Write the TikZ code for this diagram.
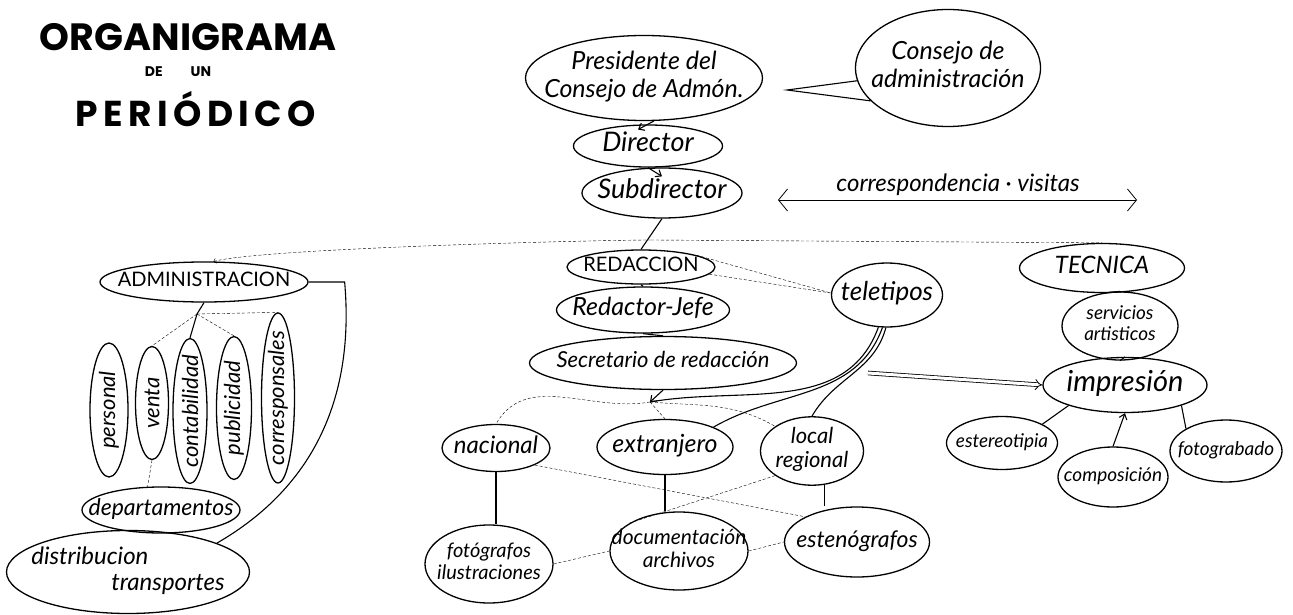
\documentclass[tikz,border=0pt]{standalone}
\usepackage{fontspec}
\usepackage{graphicx}
\usetikzlibrary{shapes.geometric,arrows.meta}
\setmainfont{Lato}
\newfontfamily\titlefont{Poppins}
\newfontfamily\titlewide{Poppins}[LetterSpace=15]
\newcommand{\bub}[2][c]{\makebox[0pt]{\renewcommand{\arraystretch}{1.1}\begin{tabular}{@{}#1@{}}#2\end{tabular}}}
\newcommand{\vbub}[1]{\rotatebox{90}{\makebox[0pt]{#1}}}

\begin{document}
\begin{tikzpicture}[x=1pt, y=-1pt,
bubble/.style={ellipse, draw, line width=1.3pt, inner sep=0pt, font=\fontsize{22}{22}\selectfont\itshape},
sz/.style={font=\fontsize{#1}{#1}\selectfont\itshape},
caps/.style={font=\fontsize{#1}{#1}\selectfont},
headline/.style={font=\titlefont\bfseries\fontsize{#1}{#1}\selectfont},
link/.style={line width=1.1pt},
faint/.style={densely dashed, thin},
tail/.style={line width=1.1pt, -{Straight Barb[length=5pt,width=8pt]}},
]
\useasboundingbox (0,0) rectangle (1293,615);

%Title
\node[headline=38] (title) at (188,37) {ORGANIGRAMA};
\node[headline=14] (titlede) at (178,72) {DE\hspace{2em}UN};
\node[headline=36, font=\titlewide\bfseries\fontsize{36}{36}\selectfont] (titleper) at (196,109) {PERIÓDICO};

%Nodes
\node[bubble, sz=25, minimum width=237, minimum height=85] (presidente) at (644,78) {\bub{Presidente del\\Consejo de Admón.}};
\node[bubble, sz=25, minimum width=185, minimum height=117] (consejo) at (948,68) {\bub{Consejo de\\administración}};
\node[bubble, sz=27, minimum width=149, minimum height=42] (director) at (648,146) {\bub{Director}};
\node[bubble, sz=27, minimum width=160, minimum height=50] (subdirector) at (662,193) {\bub{Subdirector}};
\node[sz=24] (corr) at (958,185) {correspondencia · visitas};

\node[bubble, caps=20, minimum width=208, minimum height=40] (admin) at (204,282) {\bub{ADMINISTRACION}};
\node[bubble, minimum width=38, minimum height=134] (personal) at (109,410) {\vbub{personal}};
\node[bubble, minimum width=33, minimum height=113] (venta) at (152,403) {\vbub{venta}};
\node[bubble, minimum width=34, minimum height=145] (contab) at (190,411) {\vbub{contabilidad}};
\node[bubble, minimum width=35, minimum height=143] (publicidad) at (234,408) {\vbub{publicidad}};
\node[bubble, minimum width=33, minimum height=170] (corresponsales) at (278,398) {\vbub{corresponsales}};
\node[bubble, sz=23, minimum width=158, minimum height=46] (dept) at (161,510) {\bub{departamentos}};
\node[bubble, sz=24, minimum width=243, minimum height=83] (distrib) at (128,572) {\bub[l]{distribucion\\\hspace{80pt}transportes}};

\node[bubble, caps=20, minimum width=148, minimum height=34] (redaccion) at (641,267) {\bub{REDACCION}};
\node[bubble, sz=25, minimum width=173, minimum height=46] (redactor) at (643,310) {\bub{Redactor-Jefe}};
\node[bubble, sz=22, minimum width=267, minimum height=53] (secretario) at (663,363) {\bub{Secretario de redacción}};
\node[bubble, sz=26, minimum width=111, minimum height=64] (teletipos) at (887,295) {\bub{teletipos}};
\node[bubble, sz=24, minimum width=108, minimum height=47] (nacional) at (496,448) {\bub{nacional}};
\node[bubble, sz=25, minimum width=136, minimum height=55] (extranjero) at (665,447) {\bub{extranjero}};
\node[bubble, sz=22, minimum width=103, minimum height=62] (local) at (812,451) {\bub{local\\regional}};
\node[bubble, sz=20, minimum width=128, minimum height=78] (fotos) at (489,564) {\bub{fotógrafos\\ilustraciones}};
\node[bubble, sz=21, minimum width=138, minimum height=78] (docu) at (679,551) {\bub{documentación\\archivos}};
\node[bubble, sz=23, minimum width=145, minimum height=70] (esteno) at (857,542) {\bub{estenógrafos}};

\node[bubble, sz=24, minimum width=165, minimum height=49] (tecnica) at (1102,268) {\bub{TECNICA}};
\node[bubble, sz=19, minimum width=116, minimum height=68] (servicios) at (1120,326) {\bub{servicios\\artisticos}};
\node[bubble, sz=29, minimum width=164, minimum height=55] (impresion) at (1125,385) {\bub{impresión}};
\node[bubble, sz=19, minimum width=111, minimum height=53] (estereo) at (1002,443) {\bub{estereotipia}};
\node[bubble, sz=19, minimum width=110, minimum height=60] (composicion) at (1113,477) {\bub{composición}};
\node[bubble, sz=19, minimum width=112, minimum height=62] (fotograbado) at (1226,451) {\bub{fotograbado}};

%Lines
\coordinate (split) at (651,240);
\coordinate (ctip) at (787,90);
\coordinate (fork) at (197,314);
\coordinate (vpt) at (650,402);
\coordinate (press) at (868,373);
\coordinate (corrL) at (778,200);
\coordinate (corrR) at (1137,200);

\draw[link] (consejo.188) -- (ctip) -- (consejo.203);
\draw[tail] (presidente.283) -- ([yshift=-5pt]director.115);
\draw[tail] (director.south) -- ([yshift=-9pt]subdirector.north);
\draw[link] (subdirector.south) -- (redaccion.north);
\draw[thick, {Straight Barb[length=9pt,width=22pt]}-{Straight Barb[length=9pt,width=22pt]}] (corrL) -- (corrR);
\draw[faint, ->] (split) to[out=180,in=15,looseness=0.3] (admin.65);
\draw[faint] (split) -- (tecnica.north);

\draw[link] (admin.south) -- (fork);
\draw[faint] (fork) -- (venta.north);
\draw[link] (fork) -- (contab.north);
\draw[faint] (fork) -- (publicidad.north);
\draw[faint] (fork) -- (corresponsales.north);
\draw[faint] (venta.south) -- (dept.120);
\draw[link] (admin.east) -- ++(36,0) to[out=-85,in=30] (distrib.18);

\draw[link] (redaccion.south) -- (redactor.north);
\draw[link] (redactor.south) -- (secretario.north);
\draw[tail] (secretario.south) -- (vpt);
\draw[faint] (vpt) to[out=190,in=60] (nacional.north);
\draw[faint] (vpt) -- (extranjero.north);
\draw[faint] (vpt) to[out=-5,in=150] (local.north west);
\draw[faint] (redaccion.12) -- (teletipos.178);
\draw[faint] (redaccion.-6) -- (teletipos.178);
\draw[link] (teletipos.255) to[out=250,in=10] (vpt);
\draw[link] (teletipos.262) to[out=250,in=30] (extranjero.north east);
\draw[link] (teletipos.268) to[out=255,in=60] (local.north);
\draw[double, double distance=3pt, thick, -{Implies}] (press) -- (impresion.west);

\draw[link] (nacional.south) -- (nacional.south |- fotos.north);
\draw[link] (extranjero.south) -- (extranjero.south |- docu.north);
\draw[link] (local.290) -- (local.290 |- esteno.north);
\draw[faint] (fotos.east) -- (docu.west);
\draw[faint] (docu.east) -- (esteno.west);
\draw[faint] (nacional.south east) -- (esteno.north west);
\draw[faint] (local.south west) -- (docu.north west);

\draw[link] (tecnica.south) -- (servicios.north);
\draw[link] (servicios.south) -- (impresion.north);
\draw[link] (impresion.200) -- (estereo.25);
\draw[tail] (composicion.north) -- (impresion.south);
\draw[link] (impresion.340) -- (fotograbado.north west);
\end{tikzpicture}
\end{document}
